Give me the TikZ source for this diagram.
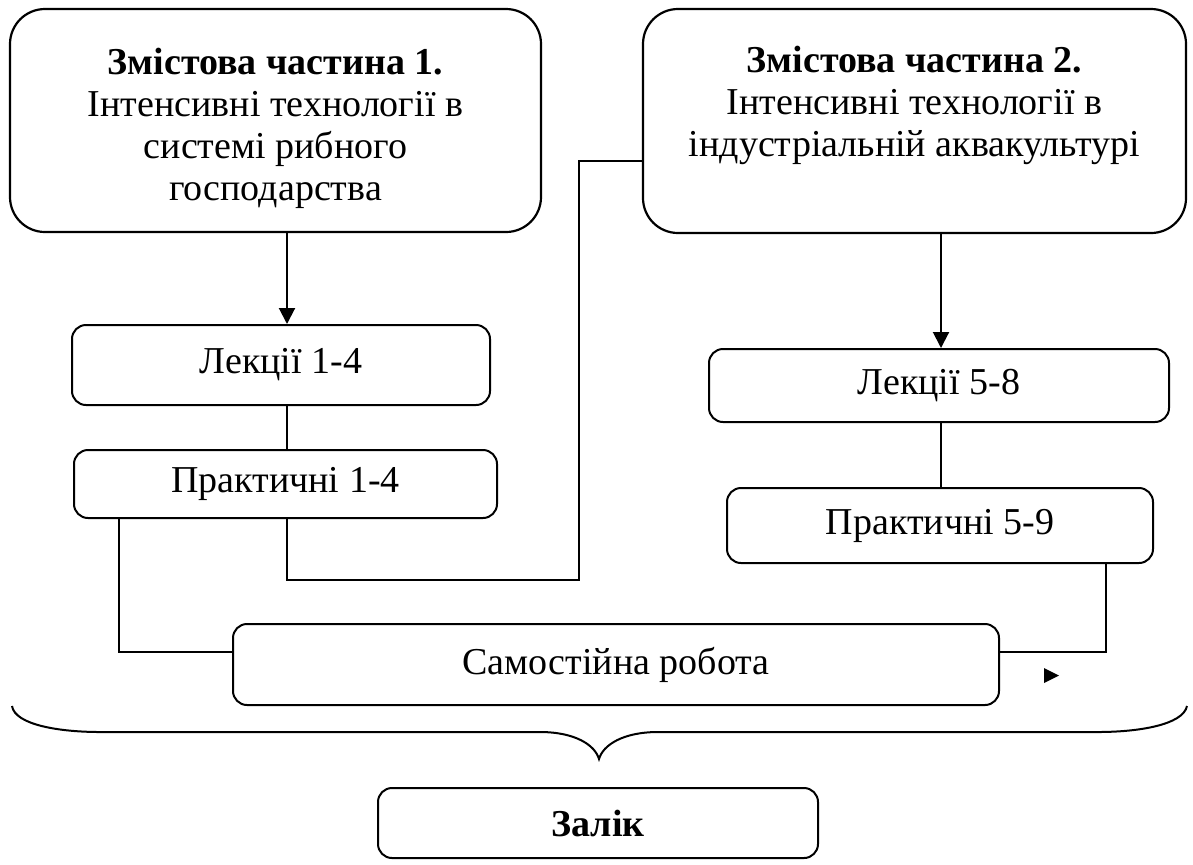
\documentclass[tikz,border=0pt]{standalone}
\usepackage{fontspec}
\setmainfont{Liberation Serif}
\usetikzlibrary{arrows.meta}

\tikzset{
  part/.style={draw, line width=1.1pt, rounded corners=17.5pt, align=center, inner sep=0pt,
    font=\fontsize{19}{21}\selectfont},
  item/.style={draw, line width=1pt, rounded corners=7pt, align=center, inner sep=0pt,
    font=\fontsize{19}{21.5}\selectfont},
  link/.style={line width=1pt},
  arr/.style={line width=1pt, -{Triangle[length=8pt,width=8pt]}}
}

\begin{document}
\begin{tikzpicture}[x=0.5pt,y=0.5pt,yscale=-1,xscale=1]
\useasboundingbox (0,0) rectangle (1193,864);

% Parts
\node[part, minimum width=265.5pt, minimum height=111.5pt] (box1) at (275.5,120.5)
  {\rule{0pt}{21pt}\textbf{Змістова частина 1.}\\Інтенсивні технології в\\системі рибного\\господарства};
\node[part, minimum width=271.5pt, minimum height=112pt] (box2) at (914.5,121)
  {\rule{0pt}{21pt}\textbf{Змістова частина 2.}\\Інтенсивні технології в\\індустріальній аквакультурі\\\strut};

% Lessons
\node[item, minimum width=209pt, minimum height=40pt] (lec1) at (281,365) {Лекції 1-4};
\node[item, minimum width=211.5pt, minimum height=34pt] (pr1) at (285.5,484) {Практичні 1-4};
\node[item, minimum width=230pt, minimum height=36.5pt] (lec2) at (939,385.5) {Лекції 5-8};
\node[item, minimum width=213pt, minimum height=37.5pt] (pr2) at (940,525.5) {Практичні 5-9};
\node[item, minimum width=383pt, minimum height=40.5pt] (sr) at (616,664.5) {Самостійна робота};
\node[item, minimum width=220pt, minimum height=35pt] (zalik) at (598,823) {\textbf{Залік}};

% Connectors
\coordinate (a1) at (287,0);
\coordinate (a2) at (941,0);
\coordinate (b1) at (579,580);
\coordinate (b2) at (579,161);
\coordinate (c1) at (119,652);
\coordinate (c2) at (1106,652);
\draw[arr] (box1.south -| a1) -- (lec1.north -| a1);
\draw[link] (lec1.south -| a1) -- (pr1.north -| a1);
\draw[link] (pr1.south -| a1) |- (b1) -- (b2) -- (box2.west |- b2);
\draw[link] (pr1.south -| c1) |- (sr.west |- c1);
\draw[arr] (box2.south -| a2) -- (lec2.north -| a2);
\draw[link] (lec2.south -| a2) -- (pr2.north -| a2);
\draw[link] (pr2.south -| c2) |- (sr.east |- c2);
\fill (1044,668) -- (1059,675.5) -- (1044,683) -- cycle;

% Brace
\draw[link] (12,706) .. controls (15,725) and (60,732) .. (100,732) -- (540,732)
  .. controls (575,732) and (595,745) .. (599,759)
  .. controls (603,745) and (623,732) .. (658,732) -- (1098,732)
  .. controls (1138,732) and (1183,725) .. (1187,706);
\end{tikzpicture}
\end{document}
